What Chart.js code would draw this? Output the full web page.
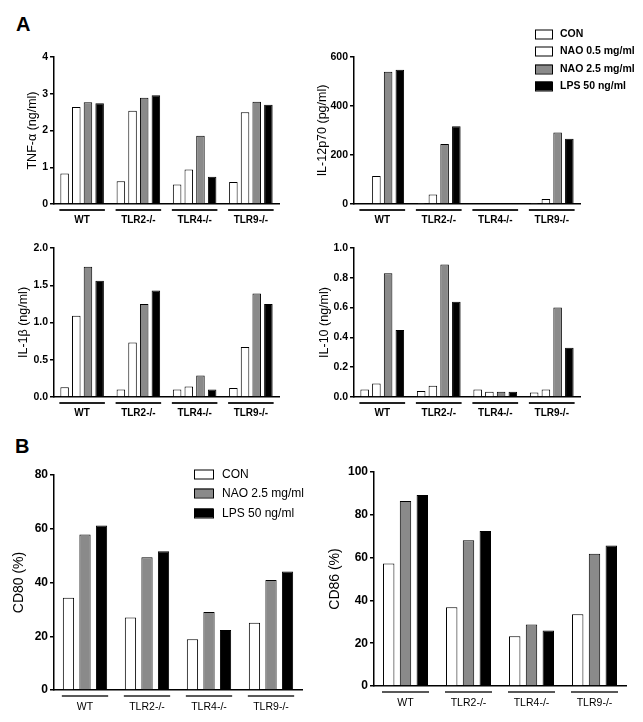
<!DOCTYPE html>
<html lang="en">
<head>
<meta charset="UTF-8">
<title>Cytokines and CD80/CD86 in TLR knockout cells</title>
<script src="https://cdn.jsdelivr.net/npm/chart.js"></script>
<style>
    body { margin: 0; background: #fff; }
    #page { position: relative; width: 643px; height: 722px; overflow: hidden; }
    #page canvas { position: absolute; left: 0; top: 0; }
    .letra { position: absolute; font: bold 20px 'Liberation Sans', Arial, sans-serif; color: #000; }
</style>
</head>
<body>
<div id="page">
    <div class="letra" style="left:16px; top:13px">A</div>
    <div class="letra" style="left:15px; top:435px">B</div>
    <canvas id="tnf" width="643" height="722"></canvas>
    <canvas id="il12" width="643" height="722"></canvas>
    <canvas id="il1b" width="643" height="722"></canvas>
    <canvas id="il10" width="643" height="722"></canvas>
    <canvas id="cd80" width="643" height="722"></canvas>
    <canvas id="cd86" width="643" height="722"></canvas>
</div>

<script>
// data
const grupos = ['WT', 'TLR2-/-', 'TLR4-/-', 'TLR9-/-'];
const seriesA = ['CON', 'NAO 0.5 mg/ml', 'NAO 2.5 mg/ml', 'LPS 50 ng/ml'];
const seriesB = ['CON', 'NAO 2.5 mg/ml', 'LPS 50 ng/ml'];

const tnfCon  = [0.83, 0.62, 0.53, 0.60];
const tnfNao05 = [2.64, 2.54, 0.94, 2.50];
const tnfNao25 = [2.77, 2.89, 1.86, 2.78];
const tnfLps  = [2.74, 2.96, 0.74, 2.70];

const il12Con  = [4, 2, 3, 2];
const il12Nao05 = [114, 39, 3, 20];
const il12Nao25 = [540, 245, 3, 292];
const il12Lps  = [548, 317, 3, 266];

const il1bCon  = [0.13, 0.10, 0.10, 0.12];
const il1bNao05 = [1.09, 0.73, 0.14, 0.67];
const il1bNao25 = [1.75, 1.25, 0.29, 1.39];
const il1bLps  = [1.56, 1.43, 0.10, 1.25];

const il10Con  = [0.05, 0.04, 0.05, 0.03];
const il10Nao05 = [0.09, 0.075, 0.035, 0.05];
const il10Nao25 = [0.83, 0.89, 0.035, 0.60];
const il10Lps  = [0.45, 0.64, 0.035, 0.33];

const cd80Con = [34.3, 27.0, 18.9, 25.0];
const cd80Nao = [57.9, 49.4, 29.0, 40.9];
const cd80Lps = [61.2, 51.6, 22.3, 44.1];

const cd86Con = [57.2, 36.8, 23.2, 33.5];
const cd86Nao = [86.4, 68.1, 28.7, 61.8];
const cd86Lps = [89.3, 72.4, 25.9, 65.6];

const familia = "'Liberation Sans', Arial, sans-serif";
const coresA = ['#ffffff', '#ffffff', '#8a8a8a', '#000000'];
const coresB = ['#ffffff', '#8a8a8a', '#000000'];

// black line under each group of bars
const sublinhado = {
    id: 'sublinhado',
    afterDatasetsDraw(chart, args, opts) {
        const ctx = chart.ctx;
        const primeiro = chart.getDatasetMeta(0).data;
        const ultimo = chart.getDatasetMeta(chart.data.datasets.length - 1).data;
        const y = chart.chartArea.bottom + opts.gap;
        ctx.save();
        ctx.strokeStyle = '#222';
        ctx.lineWidth = opts.width;
        primeiro.forEach((bar, i) => {
            ctx.beginPath();
            ctx.moveTo(bar.x - bar.width / 2 - 1, y);
            ctx.lineTo(ultimo[i].x + ultimo[i].width / 2 + 1, y);
            ctx.stroke();
        });
        ctx.restore();
    }
};

// legend drawn at a fixed spot, from the datasets
const legenda = {
    id: 'legenda',
    afterDraw(chart, args, opts) {
        if (!opts.show) return;
        const ctx = chart.ctx;
        ctx.save();
        ctx.font = opts.font;
        ctx.textBaseline = 'middle';
        chart.data.datasets.forEach((ds, i) => {
            const y = Math.round(opts.y + i * opts.step);
            ctx.fillStyle = ds.backgroundColor;
            ctx.fillRect(opts.x, y - opts.h / 2, opts.w, opts.h);
            ctx.strokeStyle = '#000';
            ctx.lineWidth = 1;
            ctx.strokeRect(opts.x + 0.5, y - opts.h / 2 + 0.5, opts.w, opts.h);
            ctx.fillStyle = '#000';
            ctx.fillText(ds.label, opts.textX, y + 0.5);
        });
        ctx.restore();
    }
};

function painel(id, cfg) {
    const W = 643, H = 722, xH = 30;
    const [l, t, r, b] = cfg.area;
    const padLeft = cfg.titleX - cfg.titleSize * 0.6;

    return new Chart(document.getElementById(id), {
        type: 'bar',
        data: {
            labels: grupos,
            datasets: cfg.series.map((nome, i) => ({
                label: nome,
                data: cfg.valores[i],
                backgroundColor: cfg.cores[i],
                borderColor: '#000',
                borderWidth: 1,
                barPercentage: cfg.barPct,
                categoryPercentage: cfg.catPct
            }))
        },
        options: {
            responsive: false,
            animation: false,
            devicePixelRatio: 1,
            layout: { padding: { left: padLeft, top: t, right: W - r, bottom: H - b - xH } },
            plugins: {
                legend: { display: false },
                tooltip: { enabled: false },
                legenda: cfg.legenda || { show: false },
                sublinhado: { gap: cfg.gap, width: cfg.lineW }
            },
            scales: {
                x: {
                    grid: { display: false, drawTicks: false },
                    border: { color: '#000', width: 1.5 },
                    ticks: { color: '#000', font: cfg.xFont, padding: cfg.xPad },
                    afterFit: s => { s.height = xH; }
                },
                y: {
                    min: 0,
                    max: cfg.max,
                    grid: { drawOnChartArea: false, drawTicks: true, tickLength: 4, color: '#000', lineWidth: 1.5 },
                    border: { color: '#000', width: 1.5 },
                    ticks: {
                        stepSize: cfg.step,
                        color: '#000',
                        font: cfg.yFont,
                        padding: 2,
                        callback: v => v.toFixed(cfg.dec)
                    },
                    title: {
                        display: true,
                        text: cfg.titulo,
                        color: '#000',
                        font: { family: familia, size: cfg.titleSize },
                        padding: 0
                    },
                    afterFit: s => { s.width = l - padLeft; }
                }
            }
        },
        plugins: [sublinhado, legenda]
    });
}

const fonteA = {
    xFont: { family: familia, size: 10, weight: 'bold' },
    yFont: { family: familia, size: 10.5, weight: 'bold' },
    titleSize: 12.5, xPad: 10, gap: 6, lineW: 2,
    barPct: 0.73, catPct: 0.83,
    series: seriesA, cores: coresA
};
const fonteB = {
    xFont: { family: familia, size: 10.5 },
    yFont: { family: familia, size: 12, weight: 'bold' },
    titleSize: 14, xPad: 11, gap: 6, lineW: 1.5,
    barPct: 0.68, catPct: 0.8,
    series: seriesB, cores: coresB
};

painel('tnf', Object.assign({}, fonteA, {
    area: [54, 57, 279, 204], titleX: 33, titulo: 'TNF-α (ng/ml)',
    max: 4, step: 1, dec: 0,
    valores: [tnfCon, tnfNao05, tnfNao25, tnfLps]
}));

painel('il12', Object.assign({}, fonteA, {
    area: [354, 57, 580, 204], titleX: 323, titulo: 'IL-12p70 (pg/ml)',
    max: 600, step: 200, dec: 0,
    valores: [il12Con, il12Nao05, il12Nao25, il12Lps],
    legenda: {
        show: true, x: 535, y: 34, step: 17.3, w: 17, h: 9, textX: 560,
        font: 'bold 10.5px ' + familia
    }
}));

painel('il1b', Object.assign({}, fonteA, {
    area: [54, 248, 279, 397], titleX: 24, titulo: 'IL-1β (ng/ml)',
    max: 2, step: 0.5, dec: 1,
    valores: [il1bCon, il1bNao05, il1bNao25, il1bLps]
}));

painel('il10', Object.assign({}, fonteA, {
    area: [354, 248, 580, 397], titleX: 325, titulo: 'IL-10 (ng/ml)',
    max: 1, step: 0.2, dec: 1,
    valores: [il10Con, il10Nao05, il10Nao25, il10Lps]
}));

painel('cd80', Object.assign({}, fonteB, {
    area: [54, 475, 302, 690], titleX: 19, titulo: 'CD80 (%)',
    max: 80, step: 20, dec: 0,
    valores: [cd80Con, cd80Nao, cd80Lps],
    legenda: {
        show: true, x: 194, y: 474, step: 19.3, w: 19, h: 9, textX: 222,
        font: '12px ' + familia
    }
}));

painel('cd86', Object.assign({}, fonteB, {
    area: [374, 472, 626, 686], titleX: 335, titulo: 'CD86 (%)',
    max: 100, step: 20, dec: 0,
    valores: [cd86Con, cd86Nao, cd86Lps]
}));
</script>
</body>
</html>
